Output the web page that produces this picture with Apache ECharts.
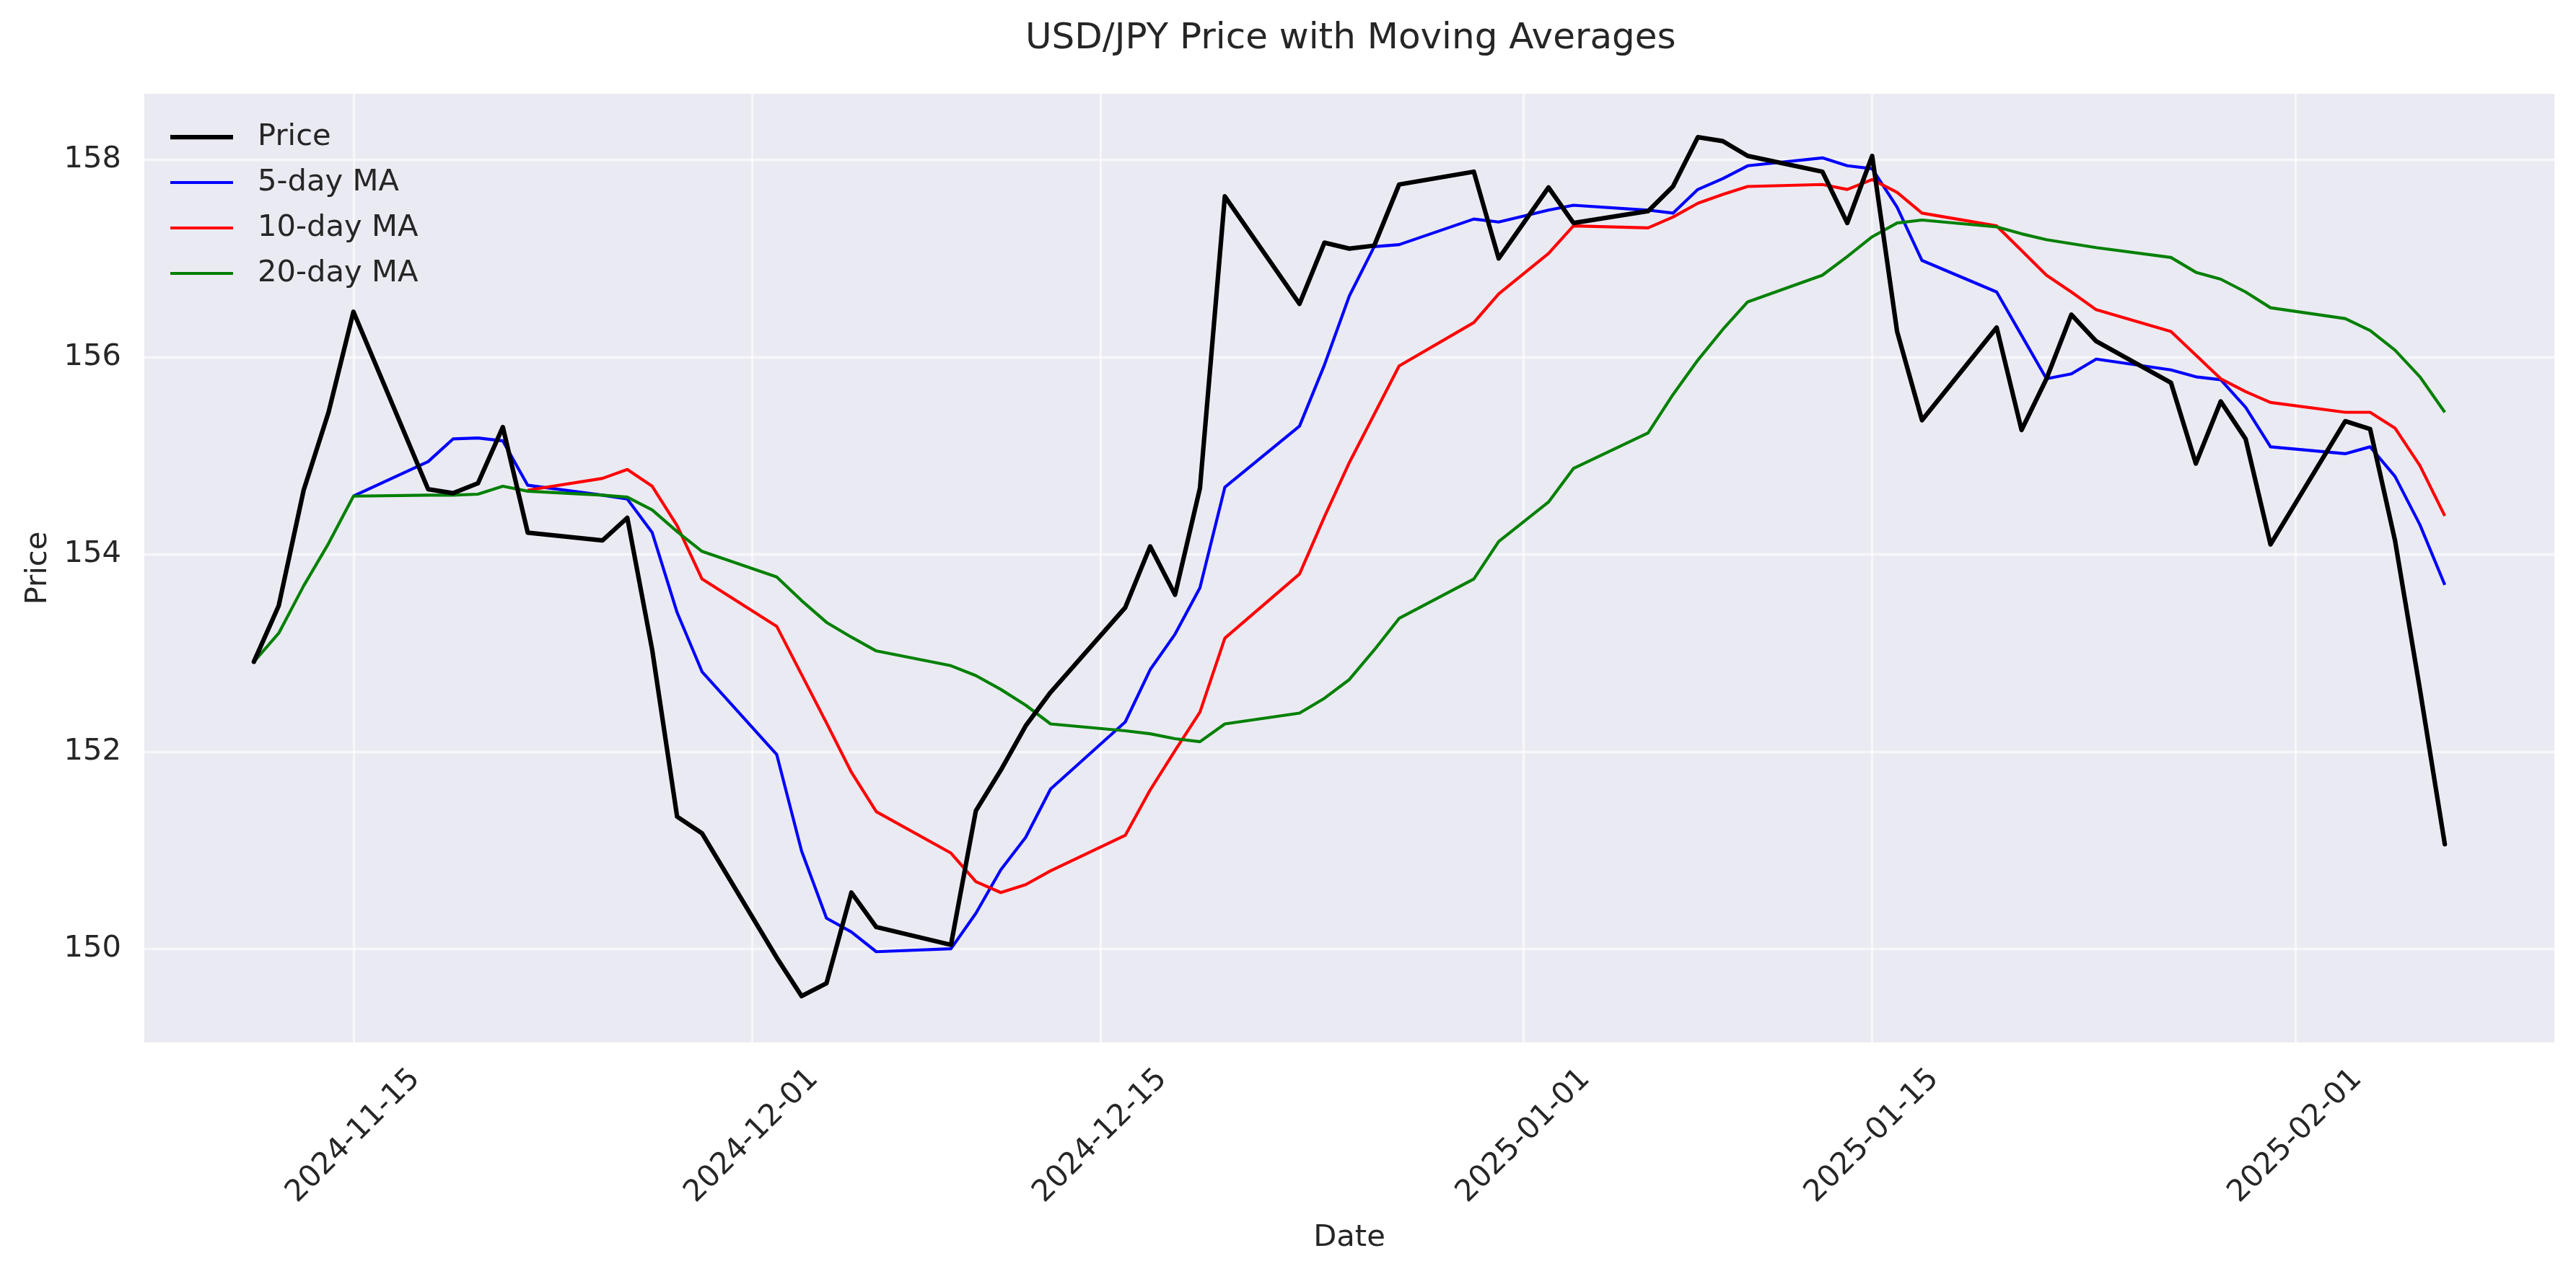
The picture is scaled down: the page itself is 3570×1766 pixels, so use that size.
<!DOCTYPE html>
<html>
<head>
<meta charset="utf-8">
<script src="https://cdn.jsdelivr.net/npm/echarts@6/dist/echarts.min.js"></script>
<style>
html,body{margin:0;padding:0;background:#fff;}
#chart{width:3570px;height:1766px;}
</style>
</head>
<body>
<div id="chart"></div>
<script>
const dates = [
  '2024-11-11','2024-11-12','2024-11-13','2024-11-14','2024-11-15','2024-11-18','2024-11-19','2024-11-20','2024-11-21','2024-11-22','2024-11-25','2024-11-26','2024-11-27','2024-11-28','2024-11-29',
  '2024-12-02','2024-12-03','2024-12-04','2024-12-05','2024-12-06','2024-12-09','2024-12-10','2024-12-11','2024-12-12','2024-12-13','2024-12-16','2024-12-17','2024-12-18','2024-12-19','2024-12-20','2024-12-23','2024-12-24','2024-12-25','2024-12-26','2024-12-27','2024-12-30','2024-12-31',
  '2025-01-02','2025-01-03','2025-01-06','2025-01-07','2025-01-08','2025-01-09','2025-01-10','2025-01-13','2025-01-14','2025-01-15','2025-01-16','2025-01-17','2025-01-20','2025-01-21','2025-01-22','2025-01-23','2025-01-24','2025-01-27','2025-01-28','2025-01-29','2025-01-30','2025-01-31',
  '2025-02-03','2025-02-04','2025-02-05','2025-02-06','2025-02-07'
];
const price = [
  152.91,153.48,154.65,155.44,156.46,154.66,154.62,154.72,155.29,154.22,154.14,154.37,153.03,151.34,151.17,
  149.91,149.52,149.65,150.57,150.22,150.04,151.40,151.81,152.26,152.60,153.46,154.08,153.59,154.67,157.63,156.54,157.16,157.10,157.13,157.75,157.88,157.00,
  157.72,157.36,157.48,157.73,158.23,158.19,158.04,157.88,157.36,158.04,156.26,155.36,156.30,155.26,155.78,156.43,156.16,155.74,154.92,155.55,155.17,154.10,
  155.35,155.27,154.14,152.63,151.06
];
const ma5 = [
  null,null,null,null,154.59,154.94,155.17,155.18,155.15,154.70,154.60,154.56,154.22,153.41,152.81,
  151.97,150.99,150.31,150.17,149.97,150.00,150.36,150.80,151.13,151.62,152.30,152.83,153.19,153.66,154.68,155.30,155.92,156.62,157.12,157.14,157.40,157.37,
  157.49,157.54,157.49,157.46,157.70,157.81,157.94,158.02,157.94,157.91,157.52,156.98,156.66,156.22,155.78,155.83,155.98,155.87,155.80,155.77,155.49,155.09,
  155.02,155.09,154.79,154.30,153.69
];
const ma10 = [
  null,null,null,null,null,null,null,null,null,154.65,154.77,154.86,154.69,154.29,153.75,
  153.27,152.78,152.29,151.79,151.39,150.97,150.68,150.57,150.65,150.79,151.15,151.61,152.01,152.40,153.15,153.80,154.38,154.93,155.42,155.91,156.35,156.64,
  157.05,157.33,157.31,157.42,157.56,157.65,157.73,157.75,157.70,157.80,157.67,157.46,157.33,157.08,156.83,156.66,156.48,156.26,156.02,155.78,155.65,155.54,
  155.44,155.44,155.28,154.90,154.39
];
const ma20 = [
  152.91,153.20,153.68,154.11,154.59,154.60,154.60,154.61,154.69,154.64,154.60,154.58,154.45,154.23,154.03,
  153.77,153.53,153.31,153.16,153.02,152.87,152.77,152.63,152.47,152.28,152.21,152.18,152.13,152.10,152.28,152.39,152.54,152.73,153.03,153.35,153.75,154.13,
  154.53,154.87,155.23,155.62,155.97,156.28,156.56,156.83,157.02,157.22,157.36,157.39,157.32,157.25,157.19,157.15,157.11,157.01,156.86,156.79,156.66,156.50,
  156.39,156.27,156.07,155.80,155.44
];
const xTickLabels = ['2024-11-15','2024-12-01','2024-12-15','2025-01-01','2025-01-15','2025-02-01'];
const yTickLabels = [150,152,154,156,158];

const DAY = 86400000;
function toTime(s){ const p = s.split('-').map(Number); return new Date(p[0], p[1]-1, p[2]).getTime(); }
function pad(n){ return (n<10?'0':'')+n; }
function fmt(v){ const d = new Date(Math.round(v)); return d.getFullYear()+'-'+pad(d.getMonth()+1)+'-'+pad(d.getDate()); }
function pairs(arr){ return dates.map((d,i)=>[toTime(d), arr[i]]); }

const xMin = toTime('2024-11-06') + 0.6*DAY;
const xMax = toTime('2025-02-11') + 0.4*DAY;
const FONT = 'DejaVu Sans';
const TXT = '#262626';
const GRID_LINE = 'rgba(255,255,255,0.6)';

const chart = echarts.init(document.getElementById('chart'), null, {renderer:'canvas'});
chart.setOption({
  animation: false,
  backgroundColor: '#ffffff',
  title: {
    text: 'USD/JPY Price with Moving Averages',
    left: 1421, top: 29, padding: 0,
    textStyle: {fontFamily: FONT, fontSize: 50, fontWeight: 'normal', color: TXT}
  },
  legend: {
    orient: 'vertical', left: 236, top: 169, padding: 0,
    itemWidth: 87, itemHeight: 20, itemGap: 21, symbolKeepAspect: true,
    textStyle: {fontFamily: FONT, fontSize: 41.7, color: TXT, lineHeight: 42, padding: [0,0,0,29]},
    data: [
      {name: 'Price', icon: 'path://M0,0H87V6.25H0Z'},
      {name: '5-day MA', icon: 'path://M0,0H87V4.17H0Z'},
      {name: '10-day MA', icon: 'path://M0,0H87V4.17H0Z'},
      {name: '20-day MA', icon: 'path://M0,0H87V4.17H0Z'}
    ]
  },
  grid: {left: 200, top: 130, width: 3340, height: 1315, show: true, backgroundColor: '#EAEAF2', borderWidth: 0, outerBoundsMode: 'none'},
  xAxis: {
    type: 'value', min: xMin, max: xMax, scale: true,
    name: 'Date', nameLocation: 'middle', nameGap: 271,
    nameTextStyle: {fontFamily: FONT, fontSize: 41.7, color: TXT, verticalAlign: 'middle'},
    axisLine: {show: false}, axisTick: {show: false, customValues: xTickLabels.map(toTime)},
    axisLabel: {customValues: xTickLabels.map(toTime), formatter: v => fmt(v), rotate: 45, align: 'center', verticalAlign: 'middle', margin: 130,
      fontFamily: FONT, fontSize: 41.7, color: TXT, hideOverlap: false},
    splitLine: {show: true, lineStyle: {color: GRID_LINE, width: 3.3}}
  },
  yAxis: {
    type: 'value', min: 149.05, max: 158.67, scale: true,
    name: 'Price', nameLocation: 'middle', nameGap: 147, nameRotate: 90,
    nameTextStyle: {fontFamily: FONT, fontSize: 41.7, color: TXT, verticalAlign: 'middle'},
    axisLine: {show: false}, axisTick: {show: false, customValues: yTickLabels},
    axisLabel: {customValues: yTickLabels, formatter: v => String(v), margin: 32, fontFamily: FONT, fontSize: 41.7, color: TXT},
    splitLine: {show: true, lineStyle: {color: GRID_LINE, width: 3.3}}
  },
  series: [
    {name: 'Price', type: 'line', data: pairs(price), symbol: 'none', showSymbol: false, z: 5,
      lineStyle: {color: '#000000', width: 6.25, join: 'round', cap: 'round'}, itemStyle: {color: '#000000'}},
    {name: '5-day MA', type: 'line', data: pairs(ma5), symbol: 'none', showSymbol: false, z: 4,
      lineStyle: {color: '#0000ff', width: 4.17, join: 'round'}, itemStyle: {color: '#0000ff'}},
    {name: '10-day MA', type: 'line', data: pairs(ma10), symbol: 'none', showSymbol: false, z: 4,
      lineStyle: {color: '#ff0000', width: 4.17, join: 'round'}, itemStyle: {color: '#ff0000'}},
    {name: '20-day MA', type: 'line', data: pairs(ma20), symbol: 'none', showSymbol: false, z: 4,
      lineStyle: {color: '#008000', width: 4.17, join: 'round'}, itemStyle: {color: '#008000'}}
  ]
});
</script>
</body>
</html>
